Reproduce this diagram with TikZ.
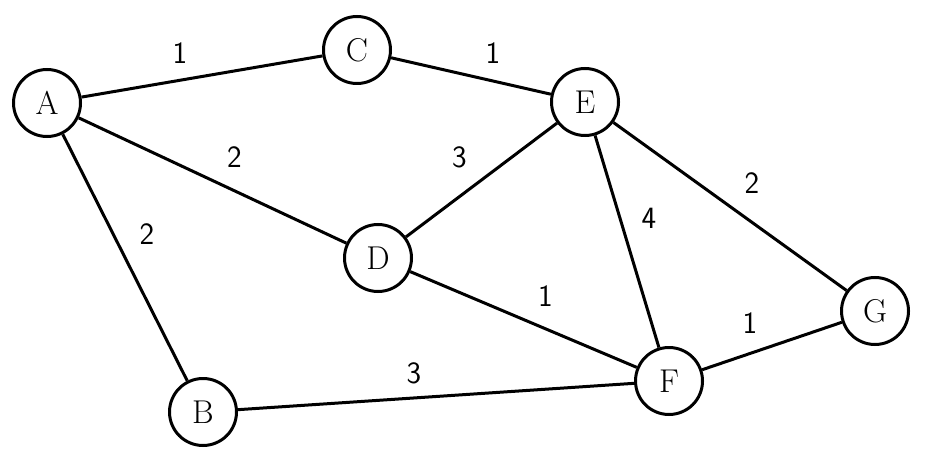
\documentclass[tikz,border=0pt]{standalone}
\begin{document}
\begin{tikzpicture}[x=0.5pt,y=-0.5pt,
  vtx/.style={circle,draw,line width=1.5pt,minimum size=33.5pt,inner sep=0pt,
    font=\fontsize{16.5}{20}\selectfont},
  lbl/.style={font=\sffamily\fontsize{15.5}{19}\selectfont,inner sep=0pt},
  lr/.style={lbl,xshift=11pt,yshift=11.5pt},
  ll/.style={lbl,xshift=-11pt,yshift=11.5pt},
  every path/.style={line width=1.5pt}]
\useasboundingbox (0,0) rectangle (925,454);
\node[vtx] (A) at (47,103) {A};
\node[vtx] (C) at (357,50) {C};
\node[vtx] (E) at (585,102) {E};
\node[vtx] (D) at (378,258) {D};
\node[vtx] (G) at (875,311) {G};
\node[vtx] (F) at (669,381) {F};
\node[vtx] (B) at (203,412) {B};
\draw (A) -- node[ll,midway] {1} (C);
\draw (C) -- node[lr,midway] {1} (E);
\draw (A) -- node[lr,midway] {2} (D);
\draw (A) -- node[lr,midway] {2} (B);
\draw (D) -- node[ll,midway] {3} (E);
\draw (E) -- node[lr,midway] {4} (F);
\draw (E) -- node[lr,midway] {2} (G);
\draw (D) -- node[lr,midway] {1} (F);
\draw (F) -- node[ll,midway] {1} (G);
\draw (B) -- node[ll,midway] {3} (F);
\end{tikzpicture}
\end{document}
